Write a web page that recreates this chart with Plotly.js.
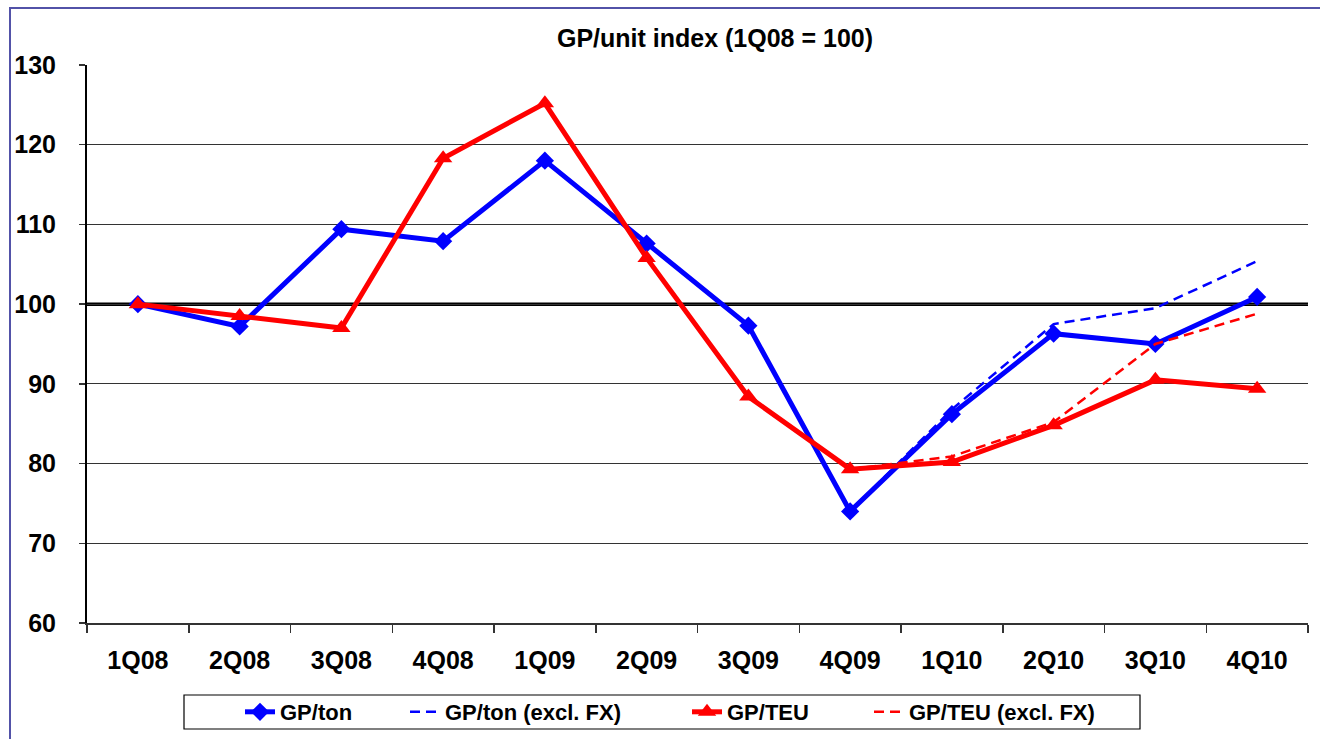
<!DOCTYPE html>
<html>
<head>
<meta charset="utf-8">
<script src="https://cdn.plot.ly/plotly-3.0.1.min.js"></script>
<style>
  html, body { margin: 0; padding: 0; background: #fff; overflow: hidden; }
  #chart { position: absolute; left: 0; top: 0; width: 1320px; height: 739px; }
  #frame { position: absolute; left: 9px; top: 7px; width: 1400px; height: 800px;
           border: 2px solid #5252a8; pointer-events: none; }
</style>
</head>
<body>
<div id="chart"></div>
<div id="frame"></div>
<script>
// ---- data ----
const quarters = ["1Q08","2Q08","3Q08","4Q08","1Q09","2Q09","3Q09","4Q09","1Q10","2Q10","3Q10","4Q10"];
const gpTon        = [100, 97.2, 109.4, 107.9, 118.0, 107.6, 97.3, 74.0, 86.2, 96.3, 95.0, 100.9];
const gpTonExclFx  = [null, null, null, null, null, null, null, 74.0, 86.8, 97.5, 99.5, 105.4];
const gpTeu        = [100, 98.5, 97.0, 118.3, 125.2, 105.8, 88.4, 79.3, 80.2, 84.8, 90.5, 89.4];
const gpTeuExclFx  = [null, null, null, null, null, null, null, 79.3, 80.9, 85.2, 95.0, 98.8];
const seriesNames  = ["GP/ton", "GP/ton (excl. FX)", "GP/TEU", "GP/TEU (excl. FX)"];
const yTicks       = [60, 70, 80, 90, 100, 110, 120, 130];

const FONT = "Liberation Sans, Arial, Helvetica, sans-serif";
const BLUE = "#0000ff", RED = "#ff0000";

// figure geometry in pixels (for placing legends / box)
const W = 1320, H = 739, L = 87, R = 12, T = 65, B = 116;
const pw = W - L - R, ph = H - T - B;
const px = x => (x - L) / pw;
const py = y => (H - B - y) / ph;

const traces = [
  { x: quarters, y: gpTon, name: seriesNames[0], type: "scatter", mode: "lines+markers",
    line: { color: BLUE, width: 5 }, marker: { symbol: "diamond", size: 14, color: BLUE },
    legend: "legend" },
  { x: quarters, y: gpTonExclFx, name: seriesNames[1], type: "scatter", mode: "lines",
    line: { color: BLUE, width: 2.5, dash: "10px,6px" }, legend: "legend2" },
  { x: quarters, y: gpTeu, name: seriesNames[2], type: "scatter", mode: "lines+markers",
    line: { color: RED, width: 5 }, marker: { symbol: "triangle-up", size: 16, color: RED },
    legend: "legend3" },
  { x: quarters, y: gpTeuExclFx, name: seriesNames[3], type: "scatter", mode: "lines",
    line: { color: RED, width: 2.5, dash: "10px,6px" }, legend: "legend4" }
];

const legendFont = { family: FONT, size: 22, color: "#000", weight: "bold" };
function mkLegend(xpx) {
  return { xref: "container", yref: "container", x: xpx / W, y: 1 - 712 / H,
           xanchor: "left", yanchor: "middle",
           orientation: "h", bgcolor: "rgba(0,0,0,0)", borderwidth: 0, font: legendFont };
}

const layout = {
  width: W, height: H,
  margin: { l: L, r: R, t: T, b: B, pad: 0, autoexpand: false },
  paper_bgcolor: "#fff", plot_bgcolor: "#fff",
  font: { family: FONT, color: "#000" },
  title: { text: "GP/unit index (1Q08 = 100)", font: { family: FONT, size: 25, color: "#000", weight: "bold" },
           xref: "container", x: 715 / W, xanchor: "center", yref: "container", y: 1 - 38 / H, yanchor: "middle" },
  xaxis: { type: "category", range: [-0.5, 11.5], tickson: "boundaries", automargin: false,
           showline: true, linecolor: "#333", linewidth: 1.5, showgrid: false, zeroline: false,
           ticks: "outside", ticklen: 8, tickcolor: "#333", tickwidth: 1.5,
           tickfont: { family: FONT, size: 25, color: "#000", weight: "bold" }, ticklabelstandoff: 14 },
  yaxis: { range: [60, 130], tickvals: yTicks, ticktext: yTicks.map(String), automargin: false,
           showline: true, linecolor: "#000", linewidth: 2, showgrid: true, gridcolor: "#333", gridwidth: 1,
           zeroline: false, ticks: "outside", ticklen: 6, tickcolor: "#333", tickwidth: 1.5,
           tickfont: { family: FONT, size: 25, color: "#000", weight: "bold" }, ticklabelstandoff: 18 },
  shapes: [
    { type: "line", xref: "paper", yref: "y", x0: 0, x1: 1, y0: 100, y1: 100,
      line: { color: "#000", width: 3.5 }, layer: "below" },
    { type: "rect", xref: "paper", yref: "paper", x0: px(184), x1: px(1140), y0: py(729), y1: py(695),
      line: { color: "#000", width: 1.2 }, fillcolor: "rgba(0,0,0,0)" }
  ],
  legend: mkLegend(240),
  legend2: mkLegend(405),
  legend3: mkLegend(687),
  legend4: mkLegend(869),
  showlegend: true
};

Plotly.newPlot("chart", traces, layout, { displayModeBar: false, staticPlot: true });
</script>
</body>
</html>
